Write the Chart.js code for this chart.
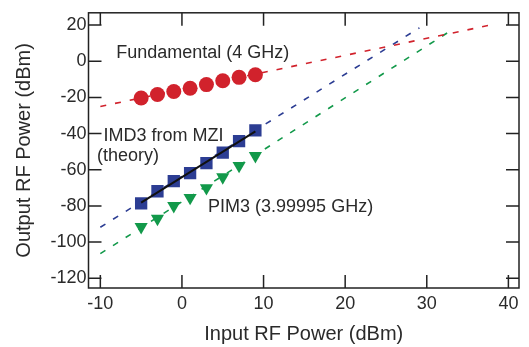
<!DOCTYPE html>
<html>
<head>
<meta charset="utf-8">
<script src="https://cdn.jsdelivr.net/npm/chart.js@4.4.1/dist/chart.umd.min.js"></script>
<style>
  body { margin: 0; background: #fff; }
  canvas { display: block; }
</style>
</head>
<body>
<canvas id="pim-chart" width="529" height="347"></canvas>
<script>
// axis ticks
const xTicks = [-10, 0, 10, 20, 30, 40];
const yTicks = [20, 0, -20, -40, -60, -80, -100, -120];

// measured points (input power, dBm)
const inputPower = [-5, -3, -1, 1, 3, 5, 7, 9];
const fundamental = [-20.3, -18.4, -16.7, -14.9, -12.9, -10.8, -8.9, -7.5];
const imd3Mzi = [-78.6, -71.9, -66.3, -61.9, -56.3, -50.5, -44.2, -38.2];
const pim3 = [-91.6, -87.0, -80.0, -75.5, -70.1, -64.1, -57.8, -52.3];

// fitted / extrapolated lines
const fundFitX = [-10, 38.3];
const fundFitY = [-25, 20.5];
const imdFitX = [-10, 29.1];
const imdFitY = [-91.8, 18.5];
const pimFitX = [-10, 32.9];
const pimFitY = [-106.4, 16.8];
const theoryX = [-5, 9];
const theoryY = [-78.2, -38.8];

// annotation labels: [text, x, y] in data units
const labels = [
  ['Fundamental (4 GHz)', -8.05, 4.3],
  ['IMD3 from MZI', -9.6, -41.3],
  ['(theory)', -10.4, -52.2],
  ['PIM3 (3.99995 GHz)', 3.2, -80.4]
];

const FONT = '"Liberation Sans", Arial, Helvetica, sans-serif';
const RED = '#d1222c';
const BLUE = '#2c3d93';
const GREEN = '#12994a';

function pts(xs, ys) {
  return xs.map((x, i) => ({ x: x, y: ys[i] }));
}

function dashed(xs, ys, color) {
  return {
    data: pts(xs, ys),
    showLine: true,
    borderColor: color,
    borderWidth: 1.6,
    borderDash: [6, 9],
    pointRadius: 0,
    order: 5
  };
}

// box + inward ticks on all four sides, plus text annotations
const framePlugin = {
  id: 'frame',
  afterDraw(chart) {
    const ctx = chart.ctx;
    const a = chart.chartArea;
    const xs = chart.scales.x, ys = chart.scales.y;
    const len = 13;
    ctx.save();
    ctx.strokeStyle = '#222';
    ctx.lineWidth = 1.5;
    ctx.strokeRect(a.left, a.top, a.right - a.left, a.bottom - a.top);
    ctx.beginPath();
    xTicks.forEach(v => {
      const px = xs.getPixelForValue(v);
      ctx.moveTo(px, a.bottom); ctx.lineTo(px, a.bottom - len);
      ctx.moveTo(px, a.top); ctx.lineTo(px, a.top + len);
    });
    yTicks.forEach(v => {
      const py = ys.getPixelForValue(v);
      ctx.moveTo(a.left, py); ctx.lineTo(a.left + len, py);
      ctx.moveTo(a.right, py); ctx.lineTo(a.right - len, py);
    });
    ctx.stroke();

    ctx.fillStyle = '#2a2a2a';
    ctx.font = '18px ' + FONT;
    ctx.textAlign = 'left';
    ctx.textBaseline = 'middle';
    labels.forEach(l => {
      ctx.fillText(l[0], xs.getPixelForValue(l[1]), ys.getPixelForValue(l[2]));
    });
    ctx.restore();
  }
};

new Chart(document.getElementById('pim-chart'), {
  type: 'scatter',
  data: {
    datasets: [
      dashed(fundFitX, fundFitY, RED),
      dashed(imdFitX, imdFitY, BLUE),
      dashed(pimFitX, pimFitY, GREEN),
      {
        data: pts(inputPower, fundamental),
        pointStyle: 'circle',
        pointRadius: 7.5,
        pointBackgroundColor: RED,
        pointBorderWidth: 0,
        order: 2
      },
      {
        data: pts(inputPower, imd3Mzi),
        pointStyle: 'rect',
        pointRadius: 8.7,
        pointBackgroundColor: BLUE,
        pointBorderWidth: 0,
        order: 2
      },
      {
        data: pts(inputPower, pim3),
        pointStyle: 'triangle',
        rotation: 180,
        pointRadius: 7.6,
        pointBackgroundColor: GREEN,
        pointBorderWidth: 0,
        order: 2
      },
      {
        data: pts(theoryX, theoryY),
        showLine: true,
        borderColor: '#111',
        borderWidth: 2,
        pointRadius: 0,
        order: 1
      }
    ]
  },
  options: {
    responsive: false,
    animation: false,
    layout: { padding: { left: 0, right: 10, top: 7, bottom: 0 } },
    plugins: { legend: { display: false }, tooltip: { enabled: false } },
    scales: {
      x: {
        type: 'linear',
        min: -11.45,
        max: 41.3,
        afterBuildTicks: s => { s.ticks = xTicks.map(v => ({ value: v })); },
        afterFit: s => { s.height = 59; },
        grid: { display: false, drawTicks: false },
        border: { display: false },
        ticks: { color: '#2a2a2a', font: { family: FONT, size: 18 }, padding: 5, maxRotation: 0 },
        title: {
          display: true,
          text: 'Input RF Power (dBm)',
          color: '#2a2a2a',
          font: { family: FONT, size: 20 },
          padding: { top: 0, bottom: 1 }
        }
      },
      y: {
        type: 'linear',
        min: -125.4,
        max: 26.8,
        afterBuildTicks: s => { s.ticks = yTicks.map(v => ({ value: v })); },
        afterFit: s => { s.width = 88.5; },
        grid: { display: false, drawTicks: false },
        border: { display: false },
        ticks: { color: '#2a2a2a', font: { family: FONT, size: 18 }, padding: 2 },
        title: {
          display: true,
          text: 'Output RF Power (dBm)',
          color: '#2a2a2a',
          font: { family: FONT, size: 20 },
          padding: { top: 12, bottom: 0 }
        }
      }
    }
  },
  plugins: [framePlugin]
});
</script>
</body>
</html>
